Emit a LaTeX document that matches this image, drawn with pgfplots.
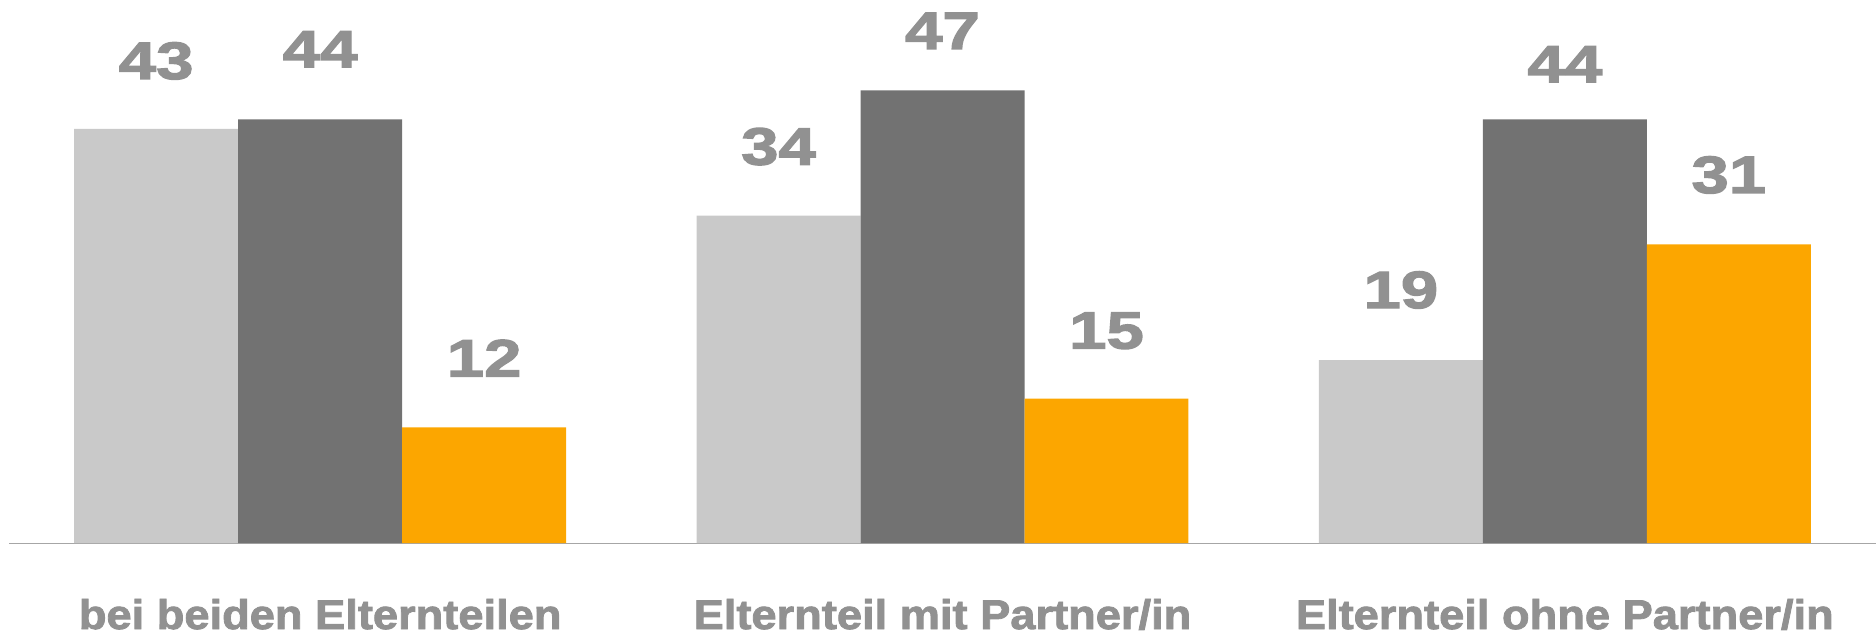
\documentclass[border=0pt]{standalone}
\usepackage{pgfplots}
\pgfplotsset{compat=1.18}
\usepackage{pgfplotstable}
\usepackage{fontspec}
\setmainfont{Liberation Sans}
\newfontfamily\numfont{Liberation Sans}[FakeStretch=1.28, FakeBold=2.5]
\newfontfamily\catfont{Liberation Sans}[FakeStretch=1.09, FakeBold=2]
\definecolor{lightbar}{HTML}{C9C9C9}
\definecolor{darkbar}{HTML}{727272}
\definecolor{orangebar}{HTML}{FCA600}
\definecolor{labelgray}{HTML}{919191}
\definecolor{axisgray}{HTML}{A6A6A6}

\pgfplotstableread{
x y off
0 43 50
1 34 51
2 19 52
}\seriesA
\pgfplotstableread{
x y off
0 44 52
1 47 41.5
2 44 37
}\seriesB
\pgfplotstableread{
x y off
0 12 51
1 15 50
2 31 51.5
}\seriesC

\begin{document}
\begin{tikzpicture}
\useasboundingbox (-9pt,-92pt) rectangle (1867pt,543pt);
\begin{axis}[
  at={(0,0)}, anchor=south west,
  scale only axis, width=1867pt, height=543pt,
  xmin=-0.5, xmax=2.5, ymin=0, ymax=56.39,
  axis x line=bottom, axis y line=none,
  x axis line style={-, draw=axisgray, line width=1pt},
  ytick=\empty,
  xtick={0,1,2},
  xticklabels={bei beiden Elternteilen, Elternteil mit Partner/in, Elternteil ohne Partner/in},
  major tick length=0pt,
  xticklabel style={anchor=base, yshift=-86pt, inner sep=0pt, text=labelgray,
    font=\catfont\bfseries\fontsize{41.5}{41.5}\selectfont},
  ybar, bar width=0.2635,
  clip=false,
  visualization depends on={\thisrow{off} \as \myoff},
  nodes near coords,
  nodes near coords style={anchor=base, inner sep=0pt, yshift=\myoff pt, text=labelgray,
    font=\numfont\bfseries\fontsize{52.5}{52.5}\selectfont},
  point meta=explicit symbolic,
]
\addplot[fill=lightbar, draw=none, bar shift=-0.2635] table[x=x, y=y, meta=y] {\seriesA};
\addplot[fill=darkbar, draw=none, bar shift=0] table[x=x, y=y, meta=y] {\seriesB};
\addplot[fill=orangebar, draw=none, bar shift=0.2635] table[x=x, y=y, meta=y] {\seriesC};
\end{axis}
\end{tikzpicture}
\end{document}
